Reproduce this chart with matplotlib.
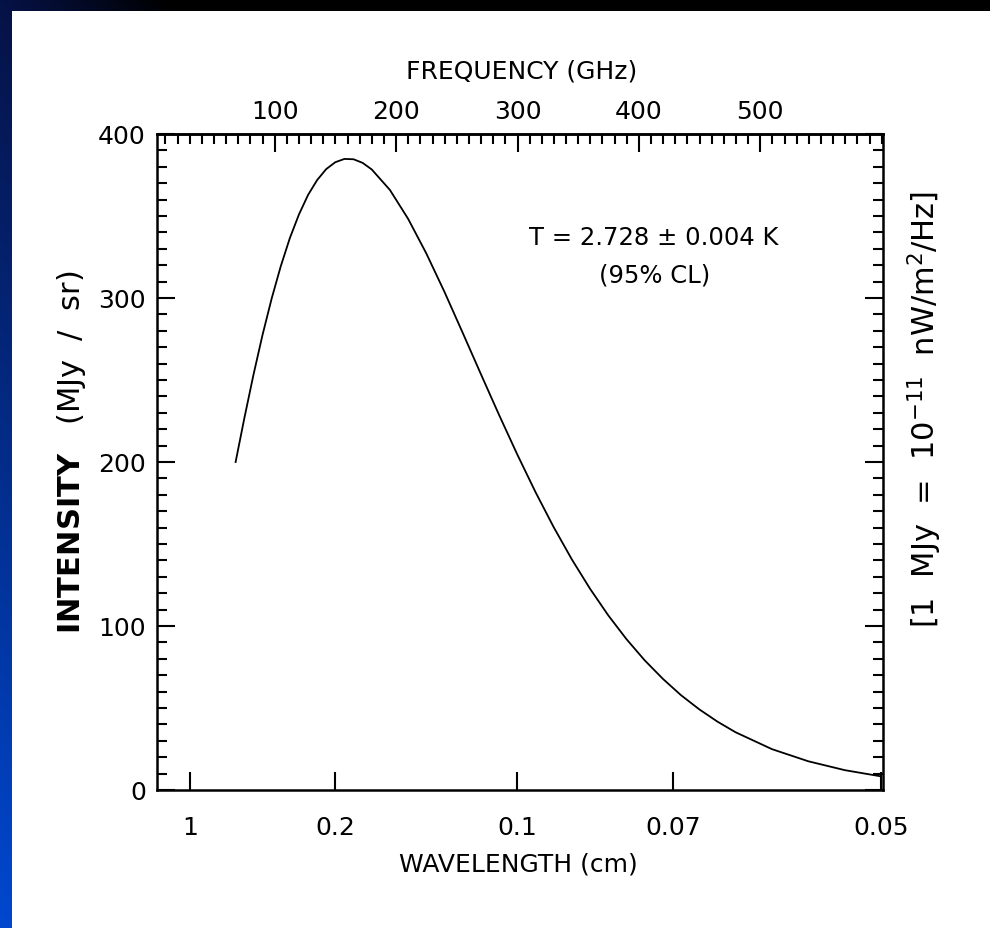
import numpy as np
import matplotlib
matplotlib.use('Agg')
import matplotlib.pyplot as plt
from matplotlib.ticker import MultipleLocator, NullLocator

# values: wavenumber (1/cm) vs intensity (MJy/sr)
wavenumber = [2.26, 2.5, 2.75, 3, 3.25, 3.5, 3.75, 4, 4.25, 4.5, 4.75, 5,
              5.25, 5.5, 5.75, 6, 6.5, 7, 7.5, 8, 8.5, 9, 9.5, 10, 10.5,
              11, 11.5, 12, 12.5, 13, 13.5, 14, 14.5, 15, 15.5, 16, 17,
              18, 19, 20]
intensity = [200, 226.7, 253.1, 277.5, 299.6, 319.3, 336.5, 350.9, 362.8,
             371.9, 378.6, 382.8, 384.8, 384.6, 382.4, 378.4, 365.9, 348.3,
             327.2, 303.7, 278.8, 253.6, 228.7, 204.6, 181.7, 160.3, 140.6,
             122.7, 106.5, 92.0, 79.1, 67.8, 57.8, 49.2, 41.7, 35.2, 24.9,
             17.5, 12.1, 8.3]

wave_ticks = [1, 0.2, 0.1, 0.07, 0.05]
wave_labels = ['1', '0.2', '0.1', '0.07', '0.05']
freq_ticks = [100, 200, 300, 400, 500]
GHZ_PER_CM = 29.9792

W, H = 990, 929
fig = plt.figure(figsize=(W / 100, H / 100), dpi=100)

# slide background: dark navy -> blue on the left, black band on top
yy, xx = np.mgrid[0:H, 0:W]
s = yy / H - 1.2 * xx / W
navy = np.array([6, 18, 70]) / 255
blue = np.array([0, 72, 208]) / 255
dark = navy * np.clip(1 + s / 0.2, 0, 1)[..., None]
light = navy + (blue - navy) * np.clip(s, 0, 1)[..., None]
bg = np.where(s[..., None] < 0, dark, light)
bg[12:, 12:] = 1.0
fig.figimage(bg, 0, 0, zorder=-5)

ax = fig.add_axes([157 / W, 1 - 791 / H, (883 - 157) / W, (791 - 135) / H])
ax.set_zorder(2)
ax.plot(wavenumber, intensity, color='black', lw=1.3)
ax.set_xlim(0.1, 20.05)
ax.set_ylim(0, 400)

ax.set_xticks([1 / w for w in wave_ticks], wave_labels)
ax.xaxis.set_minor_locator(NullLocator())
ax.yaxis.set_major_locator(MultipleLocator(100))
ax.yaxis.set_minor_locator(MultipleLocator(10))
ax.tick_params(which='both', direction='in', right=True, top=False,
               width=1.5, labelsize=18)
ax.tick_params(which='major', length=13)
ax.tick_params(which='minor', length=7)
ax.tick_params(axis='x', pad=18)
ax.tick_params(axis='y', pad=8)
for sp in ax.spines.values():
    sp.set_linewidth(1.8)

top = ax.secondary_xaxis('top', functions=(lambda x: x * GHZ_PER_CM,
                                           lambda f: f / GHZ_PER_CM))
top.set_xticks(freq_ticks)
top.xaxis.set_minor_locator(MultipleLocator(10))
top.tick_params(which='both', direction='in', width=1.5, labelsize=18, pad=8)
top.tick_params(which='major', length=13)
top.tick_params(which='minor', length=7)
top.spines['top'].set_linewidth(1.8)

fig.text(522 / W, 1 - 72 / H, 'FREQUENCY (GHz)', ha='center', va='center',
         fontsize=18)
fig.text(518 / W, 1 - 865 / H, 'WAVELENGTH (cm)', ha='center', va='center',
         fontsize=18)
fig.text(72 / W, 1 - 452 / H, r'$\mathbf{INTENSITY}$   (MJy  /  sr)',
         rotation=90, ha='center', va='center', fontsize=22)
fig.text(925 / W, 1 - 410 / H, r'[1  MJy  =  10$^{-11}$  nW/m$^2$/Hz]',
         rotation=90, ha='center', va='center', fontsize=22)
fig.text(654 / W, 1 - 238 / H, 'T = 2.728 ± 0.004 K', ha='center',
         va='center', fontsize=17.5)
fig.text(655 / W, 1 - 275 / H, '(95% CL)', ha='center', va='center',
         fontsize=17.5)

fig.savefig('out.png', dpi=100)
